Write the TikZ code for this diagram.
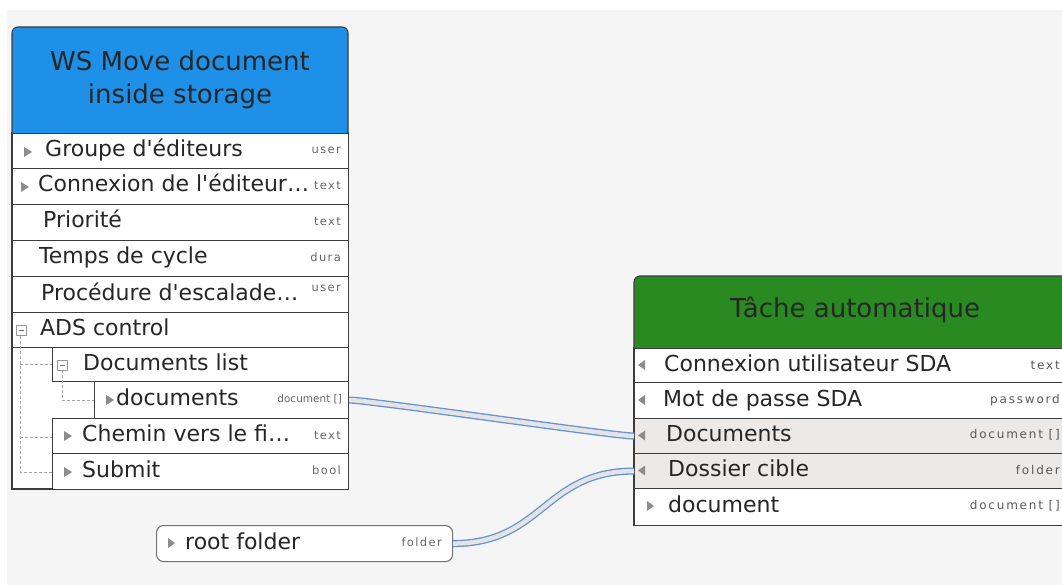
\documentclass[tikz,border=0pt]{standalone}
\usepackage{fontspec}
\setmainfont{DejaVu Sans}
\usetikzlibrary{positioning}

\definecolor{wsblue}{RGB}{30,144,232}
\definecolor{taskgreen}{RGB}{42,138,34}
\definecolor{bggray}{RGB}{245,245,245}
\definecolor{linkblue}{RGB}{95,145,225}
\definecolor{linkfill}{RGB}{230,228,224}
\definecolor{rowgray}{RGB}{236,233,230}
\definecolor{framegray}{RGB}{60,60,60}

\tikzset{
  portrow/.style={draw=framegray, line width=1.1pt, fill=white, anchor=north west,
    inner sep=0pt, minimum height=#1},
  lbl/.style={anchor=west, inner sep=0pt, text height=16pt, text depth=4pt,
    font=\fontsize{22}{26}\selectfont, text=black!85},
  typ/.style={anchor=east, inner sep=0pt,
    font=\fontsize{11.5}{13}\selectfont\addfontfeatures{LetterSpace=12}, text=black!60},
  rtyp/.style={anchor=east, inner sep=0pt,
    font=\fontsize{12}{14}\selectfont\addfontfeatures{LetterSpace=15}, text=black!65},
  ttl/.style={align=center, font=\fontsize{26}{33}\selectfont, text=black!85},
  link/.style={draw=linkblue, line width=1.3pt, double=linkfill, double distance=4.5pt},
  treeline/.style={draw=black!35, line width=0.8pt, dash pattern=on 3pt off 2pt}
}

\begin{document}
\begin{tikzpicture}[x=1pt,y=-1pt]
\clip (0,0) rectangle (1062,585);
\fill[white] (0,0) rectangle (1062,585);
\fill[bggray] (7,10) rectangle (1062,585);

% WS Move document
\draw[framegray, line width=1.1pt, fill=white] (12,133) rectangle (348,489);
\draw[framegray, line width=1.1pt, fill=wsblue, rounded corners=6pt]
  (12,133) -- (12,27) -- (348,27) -- (348,133);
\node[ttl] (wstitle) at (180,80) {WS Move document\\inside storage};
\foreach \nm/\ry/\rh/\rx/\lx/\txt in {
  grp/133/35/12/45/Groupe d\textquotesingle éditeurs,
  cnx/168/36/12/38/Connexion de l\textquotesingle éditeur…,
  prio/204/36/12/43/Priorité,
  cyc/240/36/12/39/Temps de cycle,
  esc/276/36/12/41/Procédure d\textquotesingle escalade…,
  ads/312/35/12/40/ADS control,
  dlist/347/34/52/83/Documents list,
  docs/381/37/94/116/documents,
  chem/418/35/52/82/Chemin vers le fi…,
  sub/453/36/52/82/Submit
} {
  \node[portrow=\rh, minimum width={348-\rx}] (\nm) at (\rx,\ry) {};
  \node[lbl] (l-\nm) at (\lx,{\ry+\rh/2}) {\txt};
}
\foreach \nm/\typ/\up in {grp/user/1, cnx/text/1, prio/text/1, cyc/dura/1,
  esc/user/6, chem/text/1, sub/bool/1} {
  \node[typ] (t-\nm) at ([xshift=-8pt,yshift=\up pt]\nm.east) {\typ};
}
\node[typ, font=\fontsize{10.5}{12}\selectfont] (t-docs) at ([xshift=-7pt,yshift=1pt]docs.east) {document []};
\foreach \x/\y in {28/152, 25/187, 110/400, 68/436, 68/472} {
  \fill[black!45] (\x-4,\y-5) -- (\x+4,\y) -- (\x-4,\y+5) -- cycle;
}

% tree
\draw[treeline] (20,336) -- (20,472) -- (52,472);
\draw[treeline] (20,364) -- (52,364);
\draw[treeline] (20,437) -- (52,437);
\draw[treeline] (62,370) -- (62,400) -- (94,400);
\foreach \x/\y in {21/330, 62/365} {
  \draw[black!40, line width=0.8pt, fill=white] (\x-5,\y-5) rectangle (\x+5,\y+5);
  \draw[black!55, line width=0.8pt] (\x-2.5,\y) -- (\x+2.5,\y);
}

% Tache automatique
\draw[framegray, line width=1.1pt, fill=white] (634,348) rectangle (1076,525);
\draw[framegray, line width=1.1pt, fill=taskgreen, rounded corners=6pt]
  (634,348) -- (634,276) -- (1076,276) -- (1076,348);
\node[ttl] (tasktitle) at (855,310) {Tâche automatique};
\foreach \nm/\ry/\rh/\lx/\fl/\txt in {
  tcnx/348/34/664/white/Connexion utilisateur SDA,
  tpwd/382/36/663/white/Mot de passe SDA,
  tdocs/418/35/666/rowgray/Documents,
  tdir/453/35/668/rowgray/Dossier cible,
  tout/488/37/668/white/document
} {
  \node[portrow=\rh, minimum width=442, fill=\fl] (\nm) at (634,\ry) {};
  \node[lbl] (l-\nm) at (\lx,{\ry+\rh/2}) {\txt};
}
\foreach \nm/\cy/\typ in {tcnx/365/text, tpwd/400/password,
  tdocs/435/{document []}, tdir/470/folder, tout/506/{document []}} {
  \node[rtyp] (t-\nm) at (1060,\cy) {\typ};
}
\foreach \y in {365, 400, 435.5, 470.5} {
  \fill[black!45] (645,\y-5) -- (638,\y) -- (645,\y+5) -- cycle;
}
\fill[black!45] (647,501) -- (654,506) -- (647,511) -- cycle;

% root folder
\node[draw=black!55, line width=1.1pt, fill=white, rounded corners=7pt, anchor=north west,
  minimum width=296, minimum height=36, inner sep=0pt] (root) at (156,525) {};
\fill[black!45] (168,538) -- (175,543) -- (168,548) -- cycle;
\node[lbl] (l-root) at (185,543) {root folder};
\node[typ] (t-root) at (442,542) {folder};

% links
\draw[link] (docs.east) .. controls +(20,0) and +(-20,0) .. (tdocs.west);
\draw[link] (root.east) .. controls +(90,0) and +(-90,0) .. (tdir.west);
\end{tikzpicture}
\end{document}
